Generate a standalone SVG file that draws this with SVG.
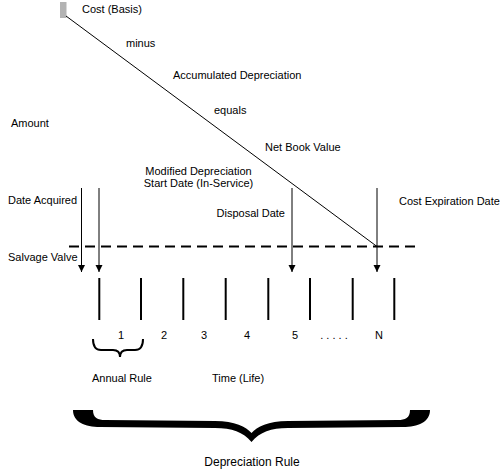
<svg xmlns="http://www.w3.org/2000/svg" width="500" height="474" viewBox="0 0 500 474">
<style>
text{font-family:"Liberation Sans",Arial,sans-serif;font-size:11px;fill:#000}
.mid{text-anchor:middle}
.tick{stroke:#000;stroke-width:2}
.arr{stroke:#000;stroke-width:1;fill:none;marker-end:url(#ah)}
</style>
<defs>
<marker id="ah" markerUnits="userSpaceOnUse" markerWidth="8" markerHeight="8" refX="7" refY="3.5" orient="auto">
<path d="M0,0 L7,3.5 L0,7 Z" fill="#000"/>
</marker>
</defs>
<rect width="500" height="474" fill="#fff"/>
<g id="cost-basis">
<rect x="60" y="2" width="6.5" height="16" fill="#b3b3b3"/>
<text x="82" y="13">Cost (Basis)</text>
</g>
<g id="minus"><text x="126" y="47">minus</text></g>
<g id="accumulated"><text x="173" y="79">Accumulated Depreciation</text></g>
<g id="equals"><text x="214" y="114">equals</text></g>
<g id="amount"><text x="11" y="127">Amount</text></g>
<g id="net-book-value"><text x="265" y="151">Net Book Value</text></g>
<g id="modified-start">
<text class="mid" x="198.5" y="175">Modified Depreciation</text>
<text class="mid" x="198.5" y="187">Start Date (In-Service)</text>
</g>
<g id="date-acquired"><text x="8" y="204">Date Acquired</text></g>
<g id="cost-expiration"><text x="399" y="205">Cost Expiration Date</text></g>
<g id="disposal-date"><text x="285" y="217" text-anchor="end">Disposal Date</text></g>
<g id="salvage"><text x="8" y="261">Salvage Valve</text></g>
<g id="timeline">
<line class="tick" x1="99.3" y1="278" x2="99.3" y2="320"/>
<line class="tick" x1="141" y1="278" x2="141" y2="320"/>
<line class="tick" x1="183.3" y1="278" x2="183.3" y2="320"/>
<line class="tick" x1="225.7" y1="278" x2="225.7" y2="320"/>
<line class="tick" x1="268.3" y1="278" x2="268.3" y2="320"/>
<line class="tick" x1="310" y1="278" x2="310" y2="320"/>
<line class="tick" x1="352.7" y1="278" x2="352.7" y2="320"/>
<line class="tick" x1="394.3" y1="278" x2="394.3" y2="320"/>
<text class="mid" x="121" y="338.5">1</text>
<text class="mid" x="164" y="338.5">2</text>
<text class="mid" x="204" y="338.5">3</text>
<text class="mid" x="247" y="338.5">4</text>
<text class="mid" x="295" y="338.5">5</text>
<text class="mid" x="334" y="338.5">. . . . .</text>
<text class="mid" x="379" y="338.5">N</text>
</g>
<g id="annual-rule">
<path d="M93,339 Q93,350 101,350 L113,350 Q120,350 120,357 Q120,350 127,350 L135,350 Q143,350 143,339" fill="none" stroke="#000" stroke-width="2"/>
<text x="92" y="382">Annual Rule</text>
</g>
<g id="time-life"><text x="212" y="382">Time (Life)</text></g>
<g id="depreciation-rule">
<path d="M251.5,433 C246,427 235,421 215,421 L105,420 C98,420 93,418 93,410 L73,410 C73,422 85,427 100,427 L215,428 C232,428 243,432 251.5,442 C260,432 271,428 288,428 L403,427 C418,427 430,422 430,410 L410,410 C410,418 405,420 398,420 L288,421 C268,421 257,427 251.5,433 Z" fill="#000"/>
<text class="mid" x="252" y="466" style="font-size:12px">Depreciation Rule</text>
</g>
<g id="connectors">
<line x1="66" y1="16" x2="377" y2="246.5" stroke="#000" stroke-width="1"/>
<line x1="69" y1="246.5" x2="417" y2="246.5" stroke="#000" stroke-width="2" stroke-dasharray="10 6"/>
<line class="arr" x1="81.5" y1="188" x2="81.5" y2="272"/>
<line class="arr" x1="99" y1="188" x2="99" y2="272"/>
<line class="arr" x1="292" y1="188" x2="292" y2="272"/>
<line class="arr" x1="377" y1="188" x2="377" y2="272"/>
</g>
</svg>
